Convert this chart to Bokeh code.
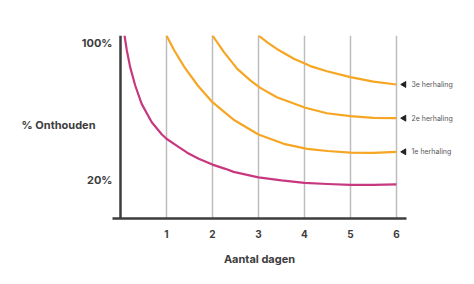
from bokeh.plotting import figure
from bokeh.models import FixedTicker, PrintfTickFormatter, Span, LinearAxis
from bokeh.embed import file_html
from bokeh.resources import INLINE
import math

# Forgetting curve (no repetition)
days_0 = [0.087, 0.138, 0.21, 0.32, 0.46, 0.68, 0.9, 1.0, 1.22, 1.45, 1.7, 2.0, 2.28, 2.46, 3.0, 3.5, 4.0, 4.5, 5.0, 5.5, 6.0]
ret_0 = [104.7, 95.9, 86.1, 75.3, 64.5, 53.7, 46.5, 44, 40, 35.8, 32.2, 28.8, 26.3, 24.5, 21.3, 19.5, 18.1, 17.4, 16.9, 16.9, 17.2]

# After repetitions
days_1 = [1.0, 1.17, 1.39, 1.68, 2.0, 2.26, 2.46, 3.0, 3.55, 4.06, 4.5, 5.0, 5.5, 6.0]
ret_1 = [104.7, 95.9, 86.1, 75.3, 65.5, 59.6, 55.2, 46.5, 41, 38, 36.8, 35.8, 35.7, 36.3]

days_2 = [2.0, 2.25, 2.54, 2.83, 3.04, 3.4, 4.02, 4.49, 5.0, 5.5, 6.0]
ret_2 = [104.7, 94.9, 85.1, 78.2, 73.9, 68.4, 62.2, 59, 57.3, 56.3, 56.1]

days_3 = [3.0, 3.2, 3.4, 3.77, 4.13, 4.49, 5.0, 5.5, 6.0]
ret_3 = [104.7, 100.5, 96.8, 91, 86.7, 83.7, 80.2, 77.6, 75.9]

repeat_labels = ["1e herhaling", "2e herhaling", "3e herhaling"]
x_ticks = [1, 2, 3, 4, 5, 6]
y_ticks = [20, 100]
x_title = "Aantal dagen"
y_title = "% Onthouden"
y_title_pos = 52

PINK = "#c8387f"
ORANGE = "#f6a623"
DARK = "#3d3d3d"

p = figure(width=474, height=284, output_backend="svg", toolbar_location=None,
           x_range=(-0.174, 6.22), y_range=(-2.9, 104.7),
           min_border_left=112, min_border_right=68, min_border_top=35, min_border_bottom=66)
p.outline_line_color = None
p.background_fill_color = "white"
p.border_fill_color = "white"

# x axis
xa = p.xaxis[0]
xa.ticker = FixedTicker(ticks=x_ticks)
xa.axis_line_color = DARK
xa.axis_line_width = 2.5
xa.major_tick_line_color = None
xa.minor_tick_line_color = None
xa.major_label_standoff = 5
xa.major_label_text_font = "Inter"
xa.major_label_text_font_style = "bold"
xa.major_label_text_font_size = "10px"
xa.major_label_text_color = DARK
xa.axis_label = x_title
xa.axis_label_standoff = 11
xa.axis_label_text_font = "Inter"
xa.axis_label_text_font_style = "bold"
xa.axis_label_text_font_size = "11px"
xa.axis_label_text_color = DARK

# y axis (tick labels)
ya = p.yaxis[0]
ya.ticker = FixedTicker(ticks=y_ticks)
ya.formatter = PrintfTickFormatter(format="%d%%")
ya.axis_line_color = None
ya.major_tick_line_color = None
ya.minor_tick_line_color = None
ya.major_label_standoff = -6
ya.major_label_text_font = "Inter"
ya.major_label_text_font_style = "bold"
ya.major_label_text_font_size = "11px"
ya.major_label_text_color = DARK

# y title as a horizontal label on an extra left axis
yt = LinearAxis(ticker=FixedTicker(ticks=[y_title_pos]),
                major_label_overrides={y_title_pos: y_title})
yt.axis_line_color = None
yt.major_tick_line_color = None
yt.minor_tick_line_color = None
yt.major_label_standoff = -23
yt.major_label_text_font = "Inter"
yt.major_label_text_font_style = "bold"
yt.major_label_text_font_size = "11px"
yt.major_label_text_color = DARK
p.add_layout(yt, "left")

# grid
p.ygrid.grid_line_color = None
p.xgrid.ticker = FixedTicker(ticks=x_ticks)
p.xgrid.grid_line_color = "#bdbdbd"
p.xgrid.grid_line_width = 1.5

# y axis line at x=0
p.add_layout(Span(location=0, dimension="height", line_color=DARK, line_width=2.5))

# curves
p.line(days_0, ret_0, line_color=PINK, line_width=2.2, line_join="round")
for d, r in [(days_1, ret_1), (days_2, ret_2), (days_3, ret_3)]:
    p.line(d, r, line_color=ORANGE, line_width=2.2, line_join="round")

# end markers & labels (right axis)
ends = [ret_1[-1], ret_2[-1], ret_3[-1]]
p.scatter([6.17] * 3, ends, marker="triangle", size=6, angle=math.pi / 2,
          fill_color="#222222", line_color="#222222")
ra = LinearAxis(ticker=FixedTicker(ticks=ends),
                major_label_overrides={e: t for e, t in zip(ends, repeat_labels)})
ra.axis_line_color = None
ra.major_tick_line_color = None
ra.minor_tick_line_color = None
ra.major_label_standoff = -1
ra.major_label_text_font = "Inter"
ra.major_label_text_font_size = "7px"
ra.major_label_text_color = "#555555"
p.add_layout(ra, "right")

open("out.html", "w").write(file_html(p, INLINE))
